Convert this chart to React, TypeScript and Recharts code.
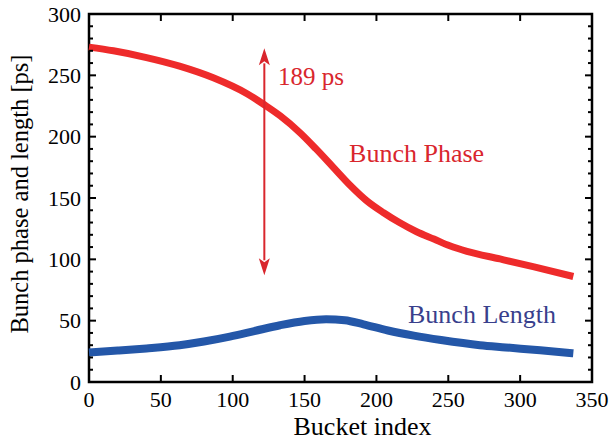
import { LineChart, Line, XAxis, YAxis, ReferenceArea, ReferenceLine, ReferenceDot } from "recharts";

// values
const phaseIndex = [0, 17, 40, 63, 86.5, 110, 122, 133, 147, 158, 170, 182, 193, 205, 216, 228, 240, 251, 263, 286, 309, 337];
const bunchPhase = [273, 270, 264.5, 257.5, 248, 235, 226, 217, 203, 190, 175, 160, 148, 138, 130, 122.5, 116.5, 111, 106.5, 100.3, 94, 86];

const lengthIndex = [0, 20, 40, 63, 80, 98, 115, 133, 150, 165, 178, 191, 208, 226, 245, 272, 290, 314, 337];
const bunchLength = [24, 25.6, 27.4, 30, 33, 37, 41.5, 46.3, 49.8, 51.2, 50.4, 47, 42, 37.8, 34.2, 30, 28.2, 25.8, 23.4];

const xTicks = [0, 50, 100, 150, 200, 250, 300, 350];
const yTicks = Array.from({ length: 31 }, (_, i) => i * 10);

// arrow spanning the phase shift
const arrowX = 122;
const arrowFrom = 87;
const arrowTo = 272;

const phaseData = phaseIndex.map((x, i) => ({ x, phase: bunchPhase[i] }));
const lengthData = lengthIndex.map((x, i) => ({ x, length: bunchLength[i] }));

const W = 611;
const H = 444;
const MARGIN = { top: 14, right: 19, bottom: 0, left: 0 };
const Y_AXIS_W = 89;
const X_AXIS_H = 62;
const PLOT_W = W - MARGIN.right - Y_AXIS_W;
const PLOT_H = H - MARGIN.top - X_AXIS_H;

const FONT = "'Liberation Serif', 'Times New Roman', 'DejaVu Serif', serif";
const RED = "#ee2b2b";
const RED_TEXT = "#d9262d";
const BLUE = "#2457a8";
const BLUE_TEXT = "#393f8c";

const txt = { fontFamily: FONT };

function XTick(props: any) {
  const { x, y, payload } = props;
  return (
    <g>
      <line x1={x} y1={y} x2={x} y2={y - 7} stroke="#000" strokeWidth={2} />
      <line x1={x} y1={y - PLOT_H} x2={x} y2={y - PLOT_H + 7} stroke="#000" strokeWidth={2} />
      <text x={x} y={y + 25} textAnchor="middle" fontSize={22} style={txt} fill="#000">
        {payload.value}
      </text>
    </g>
  );
}

function YTick(props: any) {
  const { x, y, payload } = props;
  const major = payload.value % 50 === 0;
  const len = major ? 7 : 4;
  return (
    <g>
      <line x1={x} y1={y} x2={x + len} y2={y} stroke="#000" strokeWidth={2} />
      <line x1={x + PLOT_W} y1={y} x2={x + PLOT_W - len} y2={y} stroke="#000" strokeWidth={2} />
      {major && (
        <text x={x - 8} y={y + 7.5} textAnchor="end" fontSize={22} style={txt} fill="#000">
          {payload.value}
        </text>
      )}
    </g>
  );
}

function Arrow(props: any) {
  const { x1, y1, y2 } = props;
  const top = Math.min(y1, y2);
  const bottom = Math.max(y1, y2);
  const head = 17;
  const half = 5.5;
  return (
    <g>
      <line x1={x1} y1={top + head - 2} x2={x1} y2={bottom - head + 2} stroke={RED_TEXT} strokeWidth={2} />
      <polygon points={`${x1},${top} ${x1 - half},${top + head} ${x1},${top + head - 4} ${x1 + half},${top + head}`} fill={RED_TEXT} />
      <polygon
        points={`${x1},${bottom} ${x1 - half},${bottom - head} ${x1},${bottom - head + 4} ${x1 + half},${bottom - head}`}
        fill={RED_TEXT}
      />
    </g>
  );
}

const textAt = (value: string, color: string, size: number) => (props: any) =>
  (
    <text x={props.cx} y={props.cy} fontSize={size} style={txt} fill={color}>
      {value}
    </text>
  );

export default function App() {
  return (
    <div style={{ position: "absolute", left: 0, top: 0, background: "#fff", fontFamily: FONT }}>
      <LineChart width={W} height={H} margin={MARGIN}>
        <XAxis
          dataKey="x"
          type="number"
          domain={[0, 350]}
          ticks={xTicks}
          interval={0}
          height={X_AXIS_H}
          tickSize={0}
          tickMargin={0}
          tickLine={false}
          axisLine={false}
          tick={<XTick />}
          allowDuplicatedCategory={false}
          label={(p: any) => (
            <text
              x={p.viewBox.x + p.viewBox.width / 2 + 22}
              y={p.viewBox.y + 53}
              textAnchor="middle"
              fontSize={26}
              style={txt}
              fill="#000"
            >
              Bucket index
            </text>
          )}
        />
        <YAxis
          type="number"
          domain={[0, 300]}
          ticks={yTicks}
          interval={0}
          width={Y_AXIS_W}
          tickSize={0}
          tickMargin={0}
          tickLine={false}
          axisLine={false}
          tick={<YTick />}
          label={() => {
            const cx = 28;
            const cy = 194;
            return (
              <text
                x={cx}
                y={cy}
                transform={`rotate(-90, ${cx}, ${cy})`}
                textAnchor="middle"
                fontSize={24.5}
                style={txt}
                fill="#000"
              >
                Bunch phase and length [ps]
              </text>
            );
          }}
        />
        <Line
          data={phaseData}
          type="monotone"
          dataKey="phase"
          stroke={RED}
          strokeWidth={7}
          dot={false}
          isAnimationActive={false}
        />
        <Line
          data={lengthData}
          type="monotone"
          dataKey="length"
          stroke={BLUE}
          strokeWidth={8}
          dot={false}
          isAnimationActive={false}
        />
        <ReferenceLine
          segment={[
            { x: arrowX, y: arrowFrom },
            { x: arrowX, y: arrowTo },
          ]}
          shape={<Arrow />}
        />
        <ReferenceDot x={131.5} y={242} r={0} shape={textAt("189 ps", RED_TEXT, 25)} />
        <ReferenceDot x={181} y={179} r={0} shape={textAt("Bunch Phase", RED_TEXT, 26)} />
        <ReferenceDot x={222} y={48.3} r={0} shape={textAt("Bunch Length", BLUE_TEXT, 26)} />
        <ReferenceArea x1={0} x2={350} y1={0} y2={300} fill="none" stroke="#000" strokeWidth={2.5} />
      </LineChart>
    </div>
  );
}
